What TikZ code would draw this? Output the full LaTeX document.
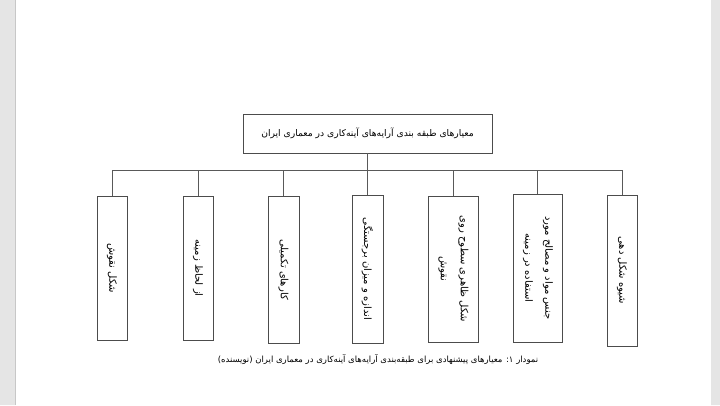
\documentclass[tikz,border=0pt]{standalone}
\usepackage{fontspec}
\newfontfamily\arabicfont[Script=Arabic]{DejaVu Sans}
\TeXXeTstate=1
\newcommand{\fa}[1]{{\arabicfont\beginR #1\endR}}
\newcommand{\stack}[1]{\begin{tabular}{@{}c@{}}#1\end{tabular}}
\tikzset{
  critbox/.style={draw=black!70,line width=0.8pt,fill=white,inner sep=0pt},
  subbox/.style={critbox,minimum width=30pt,minimum height=144pt,font=\fontsize{10}{11}\selectfont},
  link/.style={draw=black!65,line width=0.8pt},
}
\begin{document}
\begin{tikzpicture}[x=1pt,y=-1pt]
		\useasboundingbox (0,0) rectangle (720,405);
		\fill[white] (0,0) rectangle (720,405);
		\fill[black!10] (0,0) rectangle (15.5,405) (711,0) rectangle (720,405);
		\draw[black!22] (15.5,0)--(15.5,405);
		% main criterion
		\node[critbox,minimum width=249pt,minimum height=39pt,font=\fontsize{9.2}{10}\selectfont] (crit) at (367.5,133.5) {\fa{معیارهای طبقه بندی آرایه‌های آینه‌کاری در معماری ایران}};
		% sub criteria
		\node[subbox] (c1) at (112,268) {\rotatebox{-90}{\fa{شکل نقوش}}};
		\node[subbox] (c2) at (198,268) {\rotatebox{-90}{\fa{از لحاظ زمینه}}};
		\node[subbox,minimum width=31pt,minimum height=147pt] (c3) at (283.5,269.5) {\rotatebox{-90}{\fa{کارهای تکمیلی}}};
		\node[subbox,minimum width=31pt,minimum height=148pt] (c4) at (367.5,269) {\rotatebox{-90}{\fa{اندازه و میزان برجستگی}}};
		\node[subbox,minimum width=50pt,minimum height=146pt] (c5) at (453,269) {\rotatebox{-90}{\stack{\fa{شکل ظاهری سطوح روی}\\[9pt]\fa{نقوش}}}};
		\node[subbox,minimum width=49pt,minimum height=148pt] (c6) at (537.5,268) {\rotatebox{-90}{\stack{\fa{جنس مواد و مصالح مورد}\\[9pt]\fa{استفاده در زمینه}}}};
		\node[subbox,minimum height=151pt] (c7) at (622,270.5) {\rotatebox{-90}{\fa{شیوه شکل دهی}}};
		\coordinate (bus) at (0,170);
		\draw[link] (crit.south) -- (crit.south |- bus);
		\draw[link] (c1.north) -- (c1.north |- bus) -- (c7.north |- bus) -- (c7.north);
		\foreach \i in {2,...,6} \draw[link] (c\i.north) -- (c\i.north |- bus);
		% caption
		\node[font=\fontsize{8.5}{9}\selectfont] (cap) at (378,360) {\fa{نمودار ۱: معیارهای پیشنهادی برای طبقه‌بندی آرایه‌های آینه‌کاری در معماری ایران (نویسنده)}};
\end{tikzpicture}
\end{document}
